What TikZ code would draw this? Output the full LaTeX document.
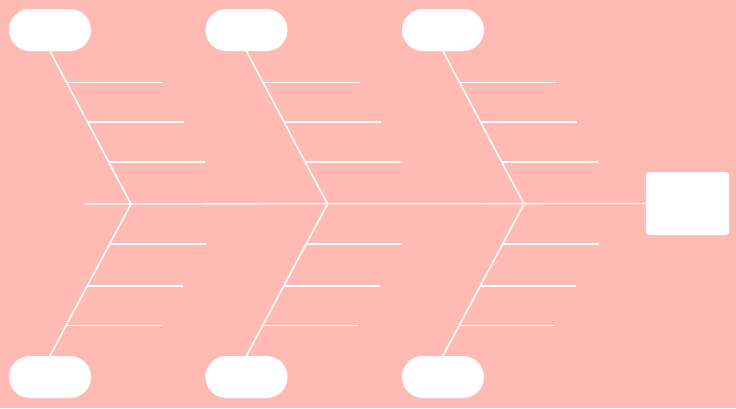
\documentclass[tikz,border=0pt]{standalone}
\usepackage{tikz}

\definecolor{bgpink}{RGB}{255,187,179}

\tikzset{
  cause/.style={draw=none,fill=white,minimum width=82pt,minimum height=42pt,rounded corners=21pt,inner sep=0pt},
  effect/.style={draw=none,fill=white,minimum width=83pt,minimum height=63pt,rounded corners=3pt,inner sep=0pt},
  bone/.style={draw=white,line width=1.5pt},
  rib/.style={draw=white,line width=1.3pt}
}

\begin{document}
\begin{tikzpicture}[x=1pt,y=-1pt]
    \fill[bgpink] (0,0) rectangle (736,408);
    \useasboundingbox (0,0) rectangle (736,408);

    % boxes
    \node[cause] (top1) at (50,30) {};
    \node[cause] (top2) at (246.5,30) {};
    \node[cause] (top3) at (443,30) {};
    \node[cause] (bot1) at (50,377) {};
    \node[cause] (bot2) at (246.5,377) {};
    \node[cause] (bot3) at (443,377) {};
    \node[effect] (head) at (687.5,203.5) {};

    % spine
    \coordinate (tail) at (84,204);
    \coordinate (j1) at (131,204);
    \coordinate (j2) at (327.5,204);
    \coordinate (j3) at (524,204);
    \draw[rib] (tail) -- (head.west);

    % bones to the top boxes
    \draw[bone] (top1.south) -- coordinate[pos=.203] (t1a) coordinate[pos=.464] (t1b) coordinate[pos=.725] (t1c) (j1);
    \draw[bone] (top2.south) -- coordinate[pos=.203] (t2a) coordinate[pos=.464] (t2b) coordinate[pos=.725] (t2c) (j2);
    \draw[bone] (top3.south) -- coordinate[pos=.203] (t3a) coordinate[pos=.464] (t3b) coordinate[pos=.725] (t3c) (j3);

    % bones to the bottom boxes
    \draw[bone] (j1) -- coordinate[pos=.263] (b1a) coordinate[pos=.54] (b1b) coordinate[pos=.80] (b1c) (bot1.north);
    \draw[bone] (j2) -- coordinate[pos=.263] (b2a) coordinate[pos=.54] (b2b) coordinate[pos=.80] (b2c) (bot2.north);
    \draw[bone] (j3) -- coordinate[pos=.263] (b3a) coordinate[pos=.54] (b3b) coordinate[pos=.80] (b3c) (bot3.north);

    % ribs
    \draw[rib] (t1a) -- ++(97,0);
    \draw[rib] (t1b) -- ++(96.5,0);
    \draw[rib] (t1c) -- ++(96.5,0);
    \draw[rib] (t2a) -- ++(97,0);
    \draw[rib] (t2b) -- ++(96.5,0);
    \draw[rib] (t2c) -- ++(96.5,0);
    \draw[rib] (t3a) -- ++(97,0);
    \draw[rib] (t3b) -- ++(96.5,0);
    \draw[rib] (t3c) -- ++(96.5,0);
    \draw[rib] (b1a) -- ++(96,0);
    \draw[rib] (b1b) -- ++(96,0);
    \draw[rib] (b1c) -- ++(96,0);
    \draw[rib] (b2a) -- ++(96,0);
    \draw[rib] (b2b) -- ++(96,0);
    \draw[rib] (b2c) -- ++(96,0);
    \draw[rib] (b3a) -- ++(96,0);
    \draw[rib] (b3b) -- ++(96,0);
    \draw[rib] (b3c) -- ++(96,0);
\end{tikzpicture}
\end{document}
